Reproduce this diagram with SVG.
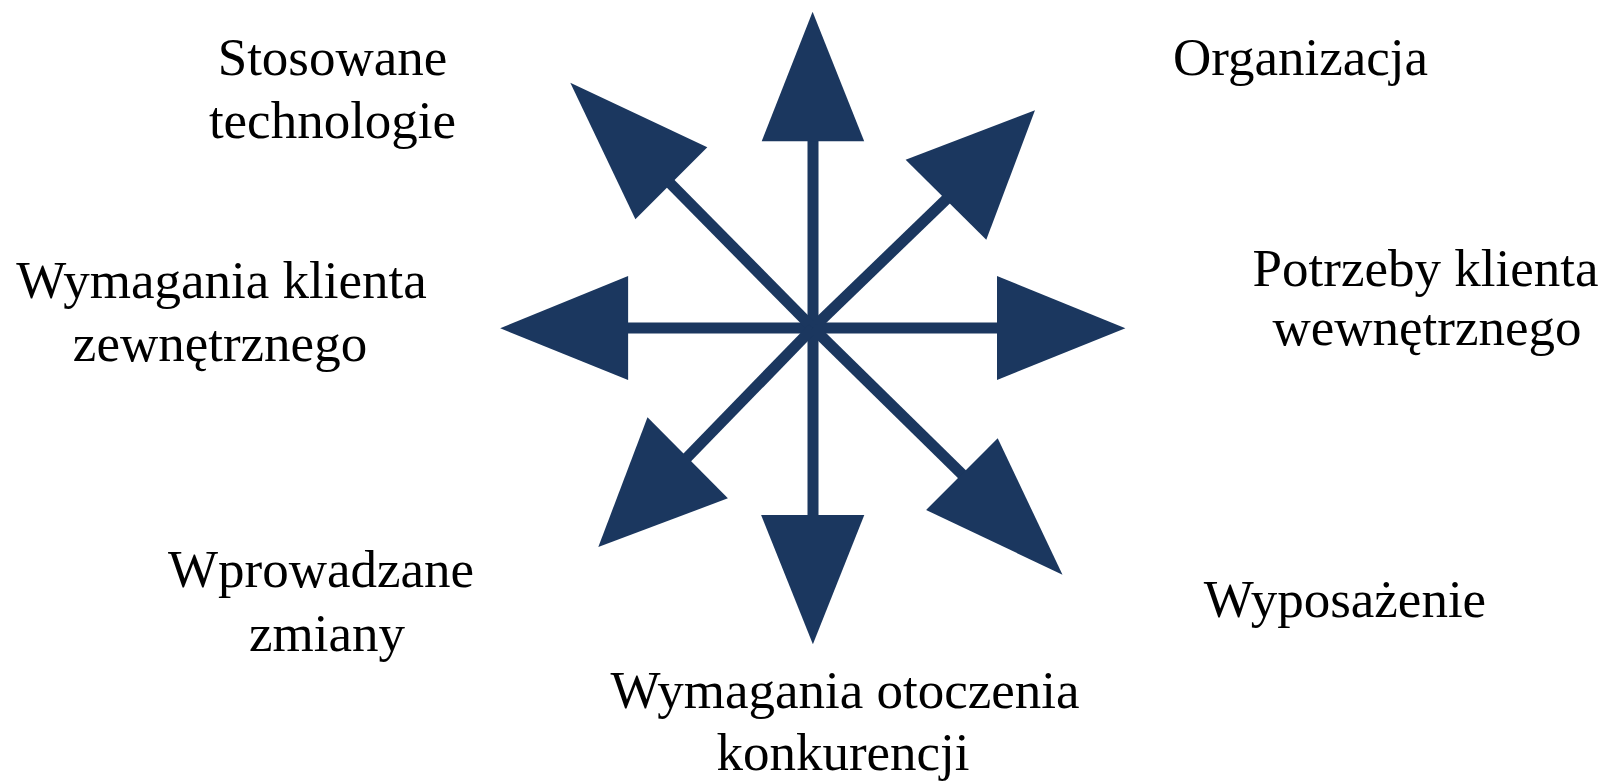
<svg xmlns="http://www.w3.org/2000/svg" width="1605" height="782" viewBox="0 0 1605 782">
<style>
.shaft{stroke:#1b375f;stroke-width:11;fill:none}
.head{fill:#1b375f;stroke:none}
.lbl{font-family:"Liberation Serif","Times New Roman",serif;font-size:53px;fill:#000;text-anchor:middle}
</style>
<rect width="1605" height="782" fill="#fff"/>
<g id="connectors">
<line class="shaft" x1="813" y1="328" x2="813" y2="130"/>
<line class="shaft" x1="813" y1="328" x2="813" y2="526"/>
<line class="shaft" x1="813" y1="328" x2="618" y2="328"/>
<line class="shaft" x1="813" y1="328" x2="1007" y2="328"/>
<line class="shaft" x1="813" y1="328" x2="660" y2="173"/>
<line class="shaft" x1="813" y1="328" x2="958" y2="188"/>
<line class="shaft" x1="813" y1="328" x2="676" y2="469"/>
<line class="shaft" x1="813" y1="328" x2="975" y2="487"/>
<polygon class="head" points="812.6,11.7 864.2,141.3 761.7,141.3"/>
<polygon class="head" points="812.9,644.3 761.1,515 864.3,515"/>
<polygon class="head" points="500.2,328.3 628.1,276 628.1,380"/>
<polygon class="head" points="1125.4,328.3 997,276 997,380"/>
<polygon class="head" points="570.3,82.7 707.3,147.3 635.4,219.3"/>
<polygon class="head" points="1035,110.3 905.6,159.7 986.3,239.7"/>
<polygon class="head" points="598.3,547 647.5,417.3 727.9,498.3"/>
<polygon class="head" points="1062.5,574.7 997.7,438.3 926.1,510"/>
</g>
<g id="n-stosowane"><text class="lbl" x="332.5" y="75">Stosowane</text><text class="lbl" x="332.5" y="138">technologie</text></g>
<g id="n-organizacja"><text class="lbl" x="1300.5" y="75">Organizacja</text></g>
<g id="n-wymagania-klienta"><text class="lbl" x="221.5" y="298">Wymagania klienta</text><text class="lbl" x="220" y="361">zewnętrznego</text></g>
<g id="n-potrzeby"><text class="lbl" x="1425.5" y="286">Potrzeby klienta</text><text class="lbl" x="1427" y="345">wewnętrznego</text></g>
<g id="n-wprowadzane"><text class="lbl" x="321" y="587">Wprowadzane</text><text class="lbl" x="327" y="651">zmiany</text></g>
<g id="n-wyposazenie"><text class="lbl" x="1345" y="617">Wyposażenie</text></g>
<g id="n-otoczenie"><text class="lbl" x="845" y="708">Wymagania otoczenia</text><text class="lbl" x="843" y="770">konkurencji</text></g>
</svg>
